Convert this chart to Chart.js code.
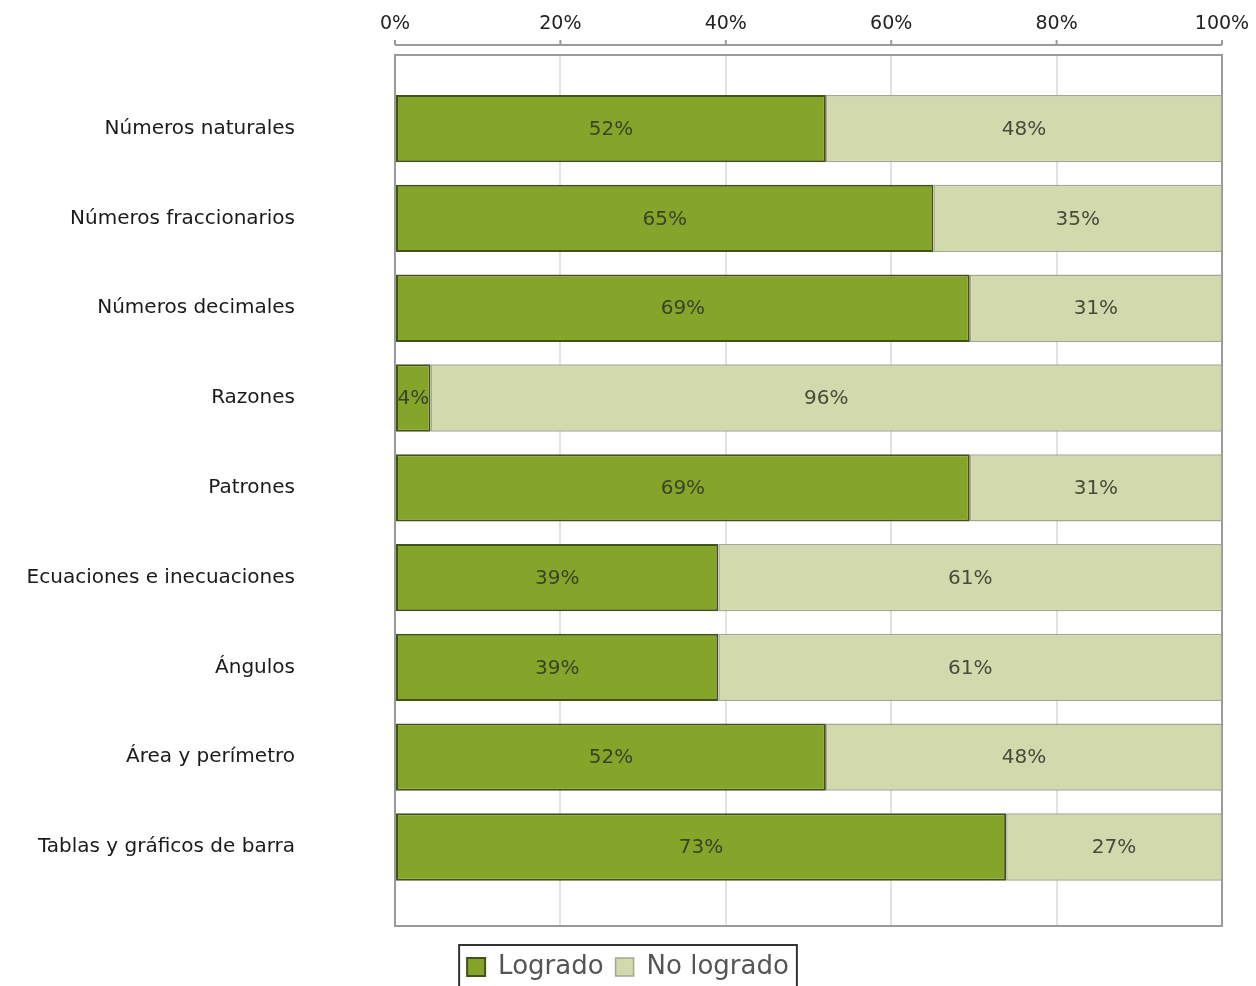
<!DOCTYPE html>
<html>
<head>
<meta charset="utf-8">
<script src="https://cdn.jsdelivr.net/npm/chart.js@4.4.1/dist/chart.umd.min.js"></script>
<style>
  body { margin: 0; background: #fff; }
  #wrap { width: 1256px; height: 986px; position: relative; }
</style>
</head>
<body>
<div id="wrap"><canvas id="myChart"></canvas></div>
<script>
// categories (top to bottom)
var categories = [
	"Números naturales",
	"Números fraccionarios",
	"Números decimales",
	"Razones",
	"Patrones",
	"Ecuaciones e inecuaciones",
	"Ángulos",
	"Área y perímetro",
	"Tablas y gráficos de barra"
];
// bar lengths (percent)
var logrado = [52.1, 65.1, 69.5, 4.3, 69.5, 39.1, 39.1, 52.1, 73.9];
var noLogrado = [47.9, 34.9, 30.5, 95.7, 30.5, 60.9, 60.9, 47.9, 26.1];
// printed labels inside the bars
var logradoText = ["52%", "65%", "69%", "4%", "69%", "39%", "39%", "52%", "73%"];
var noLogradoText = ["48%", "35%", "31%", "96%", "31%", "61%", "61%", "48%", "27%"];
// x axis ticks
var xTicks = [0, 20, 40, 60, 80, 100];

var FONT = "'DejaVu Sans', Verdana, sans-serif";

// plot frame + separated top axis line
var framePlugin = {
	id: "frame",
	beforeDatasetsDraw: function (chart) {
		var a = chart.chartArea, c = chart.ctx;
		c.save();
		c.strokeStyle = "#9a9a9a";
		c.lineWidth = 2;
		c.strokeRect(a.left, a.top, a.right - a.left, a.bottom - a.top);
		// axis line above plot
		var y0 = a.top - 10;
		c.beginPath();
		c.moveTo(a.left, y0);
		c.lineTo(a.right, y0);
		var xs = chart.scales.x;
		xTicks.forEach(function (t) {
			var px = xs.getPixelForValue(t);
			c.moveTo(px, y0);
			c.lineTo(px, y0 - 5);
		});
		c.stroke();
		c.restore();
	}
};

// text in the middle of each bar segment
var barText = {
	id: "barText",
	afterDatasetsDraw: function (chart) {
		var c = chart.ctx;
		var texts = [logradoText, noLogradoText];
		c.save();
		c.font = "20px " + FONT;
		c.fillStyle = "rgba(45,50,35,0.85)";
		c.textAlign = "center";
		c.textBaseline = "middle";
		chart.data.datasets.forEach(function (ds, d) {
			chart.getDatasetMeta(d).data.forEach(function (el, i) {
				c.fillText(texts[d][i], (el.x + el.base) / 2, el.y + 1);
			});
		});
		c.restore();
	}
};

// legend centred on the whole canvas, with a box round it
var legendBox = {
	id: "legendBox",
	afterLayout: function (chart) {
		var shift = 17;
		chart.legend.left += shift;
		chart.legend.right += shift;
	},
	afterDraw: function (chart) {
		var hb = chart.legend.legendHitBoxes;
		if (!hb || !hb.length) return;
		var l = Math.min.apply(null, hb.map(function (h) { return h.left; }));
		var r = Math.max.apply(null, hb.map(function (h) { return h.left + h.width; }));
		var t = hb[0].top;
		var c = chart.ctx;
		c.save();
		c.strokeStyle = "#333";
		c.lineWidth = 2;
		c.strokeRect(l - 8, t - 9, r - l + 16, 60);
		c.restore();
	}
};

var ctx = document.getElementById("myChart").getContext("2d");
var myChart = new Chart(ctx, {
	type: "bar",
	data: {
		datasets: [
			{
				label: "Logrado",
				data: logrado.map(function (v, i) { return { x: v, y: i }; }),
				backgroundColor: "#84a42a",
				borderColor: "#42521a",
				borderWidth: 2,
				borderSkipped: false
			},
			{
				label: "No logrado",
				data: noLogrado.map(function (v, i) { return { x: v, y: i }; }),
				backgroundColor: "#d2d9ad",
				borderColor: "#a3a892",
				borderWidth: 1.5,
				borderSkipped: false
			}
		]
	},
	options: {
		indexAxis: "y",
		responsive: true,
		maintainAspectRatio: false,
		animation: false,
		barPercentage: 0.75,
		categoryPercentage: 1,
		layout: { padding: { left: 0, right: 34, top: 0, bottom: 0 } },
		scales: {
			x: {
				position: "top",
				stacked: true,
				min: 0,
				max: 100,
				afterFit: function (s) { s.height = 55; s.paddingLeft = 0; s.paddingRight = 0; },
				afterBuildTicks: function (s) { s.ticks = xTicks.map(function (v) { return { value: v }; }); },
				ticks: {
					padding: 20,
					color: "#222",
					font: { family: FONT, size: 19 },
					callback: function (v) { return v + "%"; }
				},
				grid: { color: "#e2e2e2", lineWidth: 2, drawTicks: false },
				border: { display: false }
			},
			y: {
				type: "linear",
				bounds: "data",
				offset: false,
				stacked: true,
				reverse: true,
				min: -0.82,
				max: 8.88,
				afterFit: function (s) { s.width = 395; s.paddingTop = 0; s.paddingBottom = 0; },
				afterBuildTicks: function (s) { s.ticks = categories.map(function (c, i) { return { value: i }; }); },
				ticks: {
					padding: 100,
					color: "#1a1a1a",
					font: { family: FONT, size: 20 },
					callback: function (v) { return categories[v]; }
				},
				grid: { display: false, drawTicks: false, offset: false },
				border: { display: false }
			}
		},
		plugins: {
			tooltip: { enabled: false },
			legend: {
				position: "bottom",
				maxHeight: 60,
				title: { display: true, text: " ", font: { size: 10 }, padding: { top: 4, bottom: 0 } },
				labels: {
					boxWidth: 18,
					boxHeight: 18,
					padding: 12,
					color: "#555",
					font: { family: FONT, size: 26 }
				}
			}
		}
	},
	plugins: [framePlugin, barText, legendBox]
});
</script>
</body>
</html>
